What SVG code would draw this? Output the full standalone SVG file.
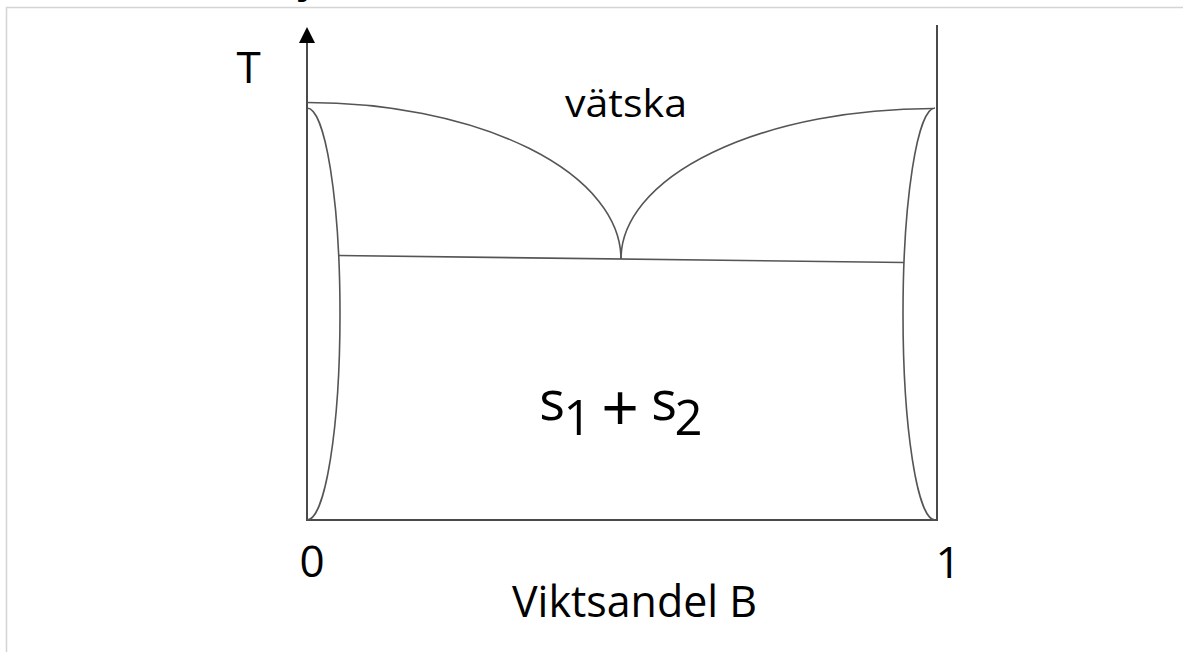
<svg xmlns="http://www.w3.org/2000/svg" width="1183" height="652" viewBox="0 0 1183 652">
  <style>
    .frame { fill: none; stroke: #d4d4d4; stroke-width: 1.5; }
    .axis { fill: none; stroke: #4a4a4a; stroke-width: 2; }
    .curve { fill: none; stroke: #555555; stroke-width: 1.6; }
    .lbl { font-family: "Open Sans", "Noto Sans", "DejaVu Sans", sans-serif; fill: #000; text-anchor: middle; }
  </style>
  <rect x="0" y="0" width="1183" height="652" fill="#ffffff"/>
  <path class="frame" d="M6.5,652 V7.5 H1183"/>
  <text x="296" y="-6" font-family="Liberation Sans, Arial, sans-serif" font-weight="700" font-size="40" fill="#000">y</text>

  <g id="axes">
    <path class="axis" d="M307,43 V520 H937 V25"/>
    <polygon points="307,27 299,43 315,43" fill="#000"/>
  </g>

  <g id="connectors">
    <path id="liquidus-left" class="curve" d="M307,102.5 A314,156.5 0 0 1 621,259"/>
    <path id="liquidus-right" class="curve" d="M621,259 A312,150.5 0 0 1 933,108.5"/>
    <path id="solidus-left" class="curve" d="M307,108 A33,206 0 0 1 307,520"/>
    <path id="solidus-right" class="curve" d="M935,108 A32,206 0 0 0 935,520"/>
    <path id="eutectic" class="curve" d="M338.6,255.5 L904,262.5"/>
  </g>

  <g id="label-T"><text class="lbl" x="248.5" y="83" font-size="44">T</text></g>
  <g id="label-liquid"><text class="lbl" x="626" y="117" font-size="37.5" textLength="122" lengthAdjust="spacingAndGlyphs">vätska</text></g>
  <g id="label-s1s2">
    <text class="lbl" font-size="54"><tspan x="552" y="420">s</tspan><tspan x="577.5" y="435" font-size="49">1</tspan><tspan x="620" y="431" font-size="66">+</tspan><tspan x="664" y="420">s</tspan><tspan x="688.5" y="435" font-size="49">2</tspan></text>
  </g>
  <g id="label-0"><text class="lbl" x="312" y="577" font-size="44">0</text></g>
  <g id="label-1"><text class="lbl" x="948" y="578" font-size="44">1</text></g>
  <g id="label-x"><text class="lbl" x="634.5" y="617" font-size="44" textLength="245" lengthAdjust="spacingAndGlyphs">Viktsandel B</text></g>
</svg>
